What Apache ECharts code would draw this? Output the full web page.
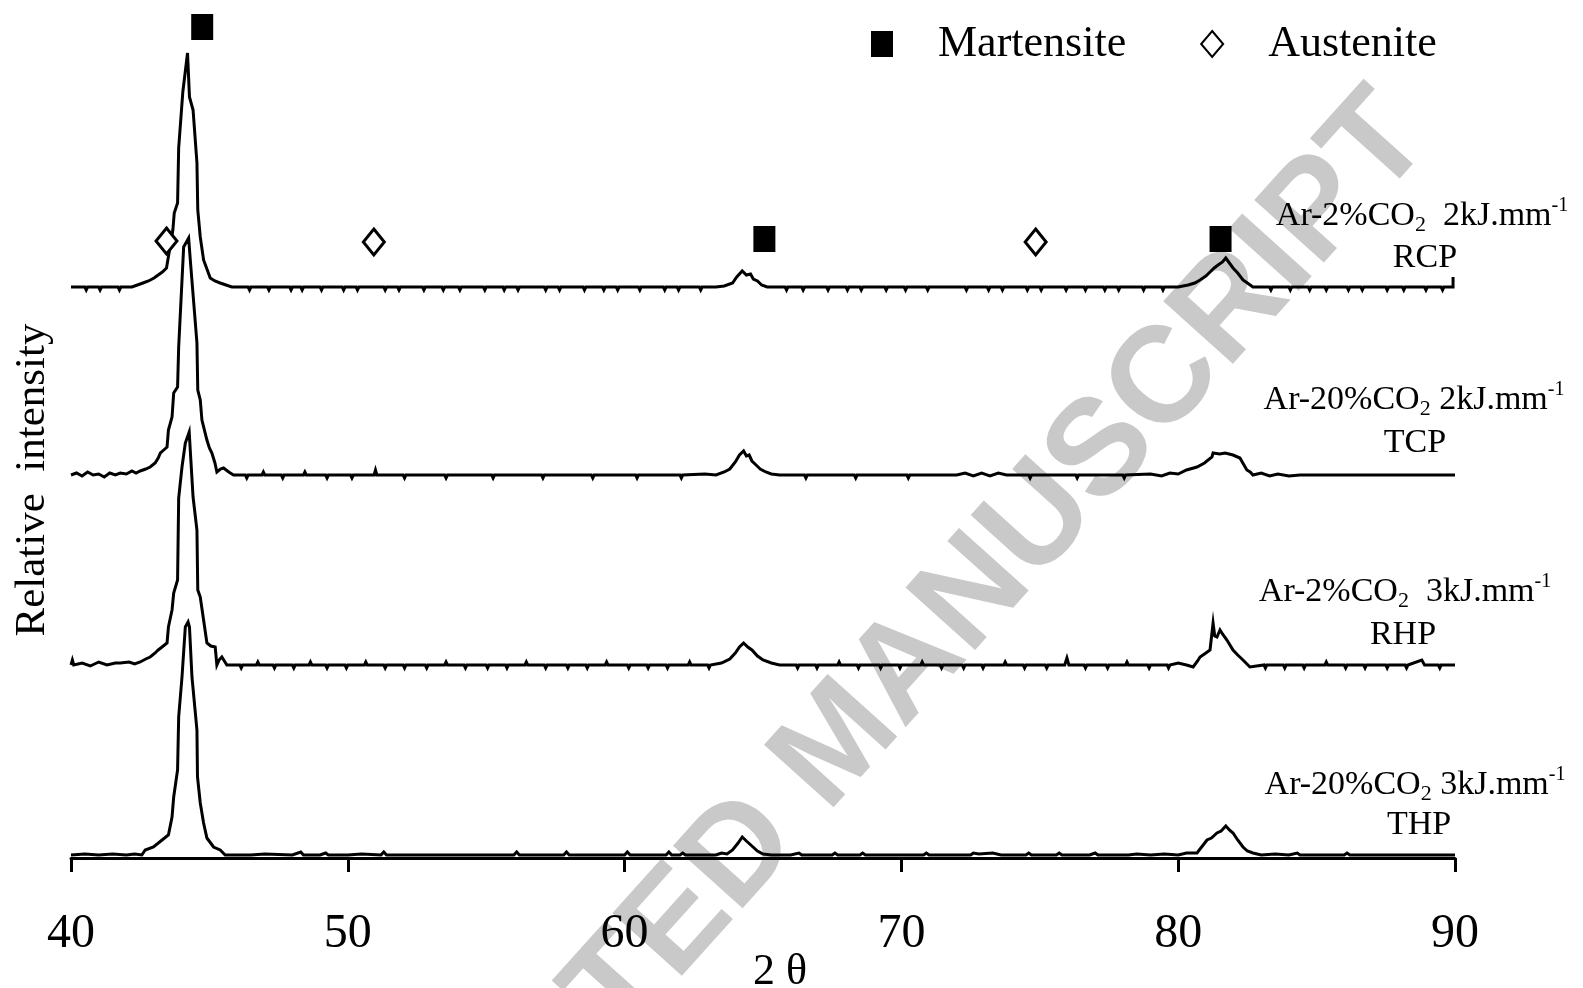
<!DOCTYPE html>
<html>
<head>
<meta charset="utf-8">
<script src="https://cdn.jsdelivr.net/npm/echarts@6/dist/echarts.min.js"></script>
<style>
html,body{margin:0;padding:0;background:#fff;}
#chart{width:1583px;height:988px;}
</style>
</head>
<body>
<div id="chart"></div>
<script>
// 2-theta tick labels
const xTicks = [40, 50, 60, 70, 80, 90];

// Diffraction patterns (2θ, stacked relative intensity in chart units)
const RCP = [[40.0,571],[40.5,571],[40.55,568],[40.6,571],[41.0,571],[41.05,568],[41.1,571],[41.7,571],[41.75,568],[41.8,571],[42.2,571],[42.4,573],[42.6,575],[42.8,577],[43.0,580],[43.15,583],[43.3,586],[43.45,590],[43.56,608],[43.68,628],[43.73,645],[43.85,655],[43.89,710],[44.04,766],[44.21,805],[44.28,761],[44.41,748],[44.55,695],[44.58,648],[44.67,621],[44.79,598],[45.03,580],[45.2,577],[45.39,575],[45.6,573],[45.81,571],[46.4,571],[46.45,568],[46.5,571],[47.1,571],[47.15,568],[47.2,571],[47.9,571],[47.95,568],[48.0,571],[48.3,571],[48.35,568],[48.4,571],[49.0,571],[49.05,568],[49.1,571],[49.8,571],[49.85,568],[49.9,571],[50.3,571],[50.35,568],[50.4,571],[51.3,571],[51.35,568],[51.4,571],[51.8,571],[51.85,568],[51.9,571],[52.7,571],[52.75,568],[52.8,571],[53.4,571],[53.45,568],[53.5,571],[54.0,571],[54.05,568],[54.1,571],[54.9,571],[54.95,568],[55.0,571],[55.6,571],[55.65,568],[55.7,571],[56.1,571],[56.15,568],[56.2,571],[57.1,571],[57.15,568],[57.2,571],[57.6,571],[57.65,568],[57.7,571],[58.5,571],[58.55,568],[58.6,571],[59.2,571],[59.25,568],[59.3,571],[59.7,571],[59.75,568],[59.8,571],[60.5,571],[60.55,568],[60.6,571],[61.4,571],[61.45,568],[61.5,571],[61.9,571],[61.95,568],[62.0,571],[62.7,571],[62.75,568],[62.8,571],[63.3,571],[63.6,572],[63.9,575],[64.05,581],[64.25,587],[64.4,583],[64.55,584],[64.65,579],[64.8,577],[64.95,573],[65.15,571],[65.8,571],[65.85,568],[65.9,571],[66.4,571],[66.45,568],[66.5,571],[67.3,571],[67.35,568],[67.4,571],[68.0,571],[68.05,568],[68.1,571],[68.5,571],[68.55,568],[68.6,571],[69.4,571],[69.45,568],[69.5,571],[70.1,571],[70.15,568],[70.2,571],[70.9,571],[70.95,568],[71.0,571],[71.8,571],[72.3,571],[72.35,568],[72.4,571],[73.1,571],[73.15,568],[73.2,571],[73.6,571],[73.65,568],[73.7,571],[74.5,571],[74.55,568],[74.6,571],[75.0,571],[75.05,568],[75.1,571],[75.9,571],[75.95,568],[76.0,571],[76.6,571],[76.65,568],[76.7,571],[77.3,571],[77.35,568],[77.4,571],[77.8,571],[77.85,568],[77.9,571],[78.7,571],[78.75,568],[78.8,571],[79.4,571],[79.45,568],[79.5,571],[80.0,571],[80.36,573],[80.6,575],[80.79,578],[81.0,582],[81.15,586],[81.3,590],[81.44,593],[81.6,596],[81.72,600],[81.85,595],[81.98,590],[82.15,585],[82.34,578],[82.5,575],[82.7,571],[83.3,571],[83.35,568],[83.4,571],[84.0,571],[84.05,568],[84.1,571],[84.7,571],[84.75,568],[84.8,571],[85.3,571],[85.35,568],[85.4,571],[86.1,571],[86.15,568],[86.2,571],[86.6,571],[86.65,568],[86.7,571],[87.5,571],[87.55,568],[87.6,571],[88.1,571],[88.15,568],[88.2,571],[88.9,571],[88.95,568],[89.0,571],[89.5,571],[89.55,568],[89.6,571],[89.93,571],[89.93,581]];

const TCP = [[40.0,383],[40.2,385],[40.4,382],[40.6,386],[40.8,383],[41.0,384],[41.2,381],[41.4,385],[41.6,383],[41.78,385],[42.0,384],[42.2,387],[42.35,385],[42.5,387],[42.7,389],[42.86,391],[43.04,395],[43.15,400],[43.23,405],[43.35,408],[43.47,411],[43.52,428],[43.65,441],[43.71,465],[43.85,471],[43.89,511],[44.07,611],[44.25,620],[44.31,598],[44.55,515],[44.58,468],[44.67,458],[44.73,438],[44.91,418],[45.0,410],[45.09,405],[45.2,395],[45.27,386],[45.4,389],[45.51,390],[45.7,386],[45.87,383],[46.3,383],[46.35,380],[46.4,383],[46.9,383],[46.95,386],[47.0,383],[47.6,383],[47.65,380],[47.7,383],[48.4,383],[48.45,386],[48.5,383],[49.2,383],[49.25,380],[49.3,383],[50.1,383],[50.15,380],[50.2,383],[50.95,383],[51.0,388],[51.05,383],[52.0,383],[52.05,380],[52.1,383],[53.5,383],[53.55,380],[53.6,383],[55.2,383],[55.25,380],[55.3,383],[57.0,383],[57.05,380],[57.1,383],[58.8,383],[58.85,380],[58.9,383],[60.4,383],[60.45,380],[60.5,383],[62.0,383],[62.05,380],[62.1,383],[62.9,384],[63.3,383],[63.6,386],[63.8,389],[64.0,396],[64.15,403],[64.3,407],[64.4,402],[64.5,403],[64.6,397],[64.75,393],[64.9,389],[65.1,386],[65.3,384],[65.6,383],[66.5,383],[66.55,380],[66.6,383],[68.3,383],[68.35,380],[68.4,383],[70.2,383],[70.25,380],[70.3,383],[72.0,383],[72.3,385],[72.6,382],[72.9,385],[73.2,382],[73.5,385],[73.8,383],[74.6,383],[74.65,380],[74.7,383],[76.3,383],[76.35,380],[76.4,383],[78.0,383],[78.05,380],[78.1,383],[79.0,384],[79.4,382],[79.7,385],[80.0,384],[80.3,388],[80.68,391],[80.95,395],[81.22,401],[81.26,405],[81.5,404],[81.7,405],[81.98,403],[82.23,400],[82.48,388],[82.6,386],[82.7,383],[83.0,385],[83.3,382],[83.6,384],[84.0,382],[84.4,383],[84.76,383],[90.0,383]];

const RHP = [[40.0,193],[40.05,198],[40.1,193],[40.4,195],[40.7,192],[41.0,196],[41.3,193],[41.6,195],[41.78,195],[42.1,196],[42.3,194],[42.5,196],[42.7,199],[42.86,201],[43.04,205],[43.15,208],[43.29,211],[43.47,215],[43.52,231],[43.65,248],[43.71,265],[43.85,278],[43.89,360],[44.01,391],[44.13,415],[44.27,426],[44.33,398],[44.41,361],[44.55,328],[44.58,268],[44.67,261],[44.79,238],[44.91,215],[45.05,212],[45.21,211],[45.27,193],[45.35,198],[45.45,201],[45.63,193],[46.1,193],[46.15,190],[46.2,193],[46.7,193],[46.75,196],[46.8,193],[47.3,193],[47.35,190],[47.4,193],[48.0,193],[48.05,190],[48.1,193],[48.6,193],[48.65,196],[48.7,193],[49.2,193],[49.25,190],[49.3,193],[49.9,193],[49.95,190],[50.0,193],[50.6,193],[50.65,196],[50.7,193],[51.3,193],[51.35,190],[51.4,193],[52.0,193],[52.05,190],[52.1,193],[52.8,193],[52.85,190],[52.9,193],[53.5,193],[53.55,196],[53.6,193],[54.2,193],[54.25,190],[54.3,193],[55.0,193],[55.05,190],[55.1,193],[55.7,193],[55.75,190],[55.8,193],[56.4,193],[56.45,196],[56.5,193],[57.1,193],[57.15,190],[57.2,193],[57.9,193],[57.95,190],[58.0,193],[58.6,193],[58.65,190],[58.7,193],[59.3,193],[59.35,196],[59.4,193],[60.1,193],[60.15,190],[60.2,193],[60.8,193],[60.85,190],[60.9,193],[61.5,193],[61.55,190],[61.6,193],[62.3,193],[62.35,196],[62.4,193],[63.0,193],[63.05,190],[63.1,193],[63.5,195],[63.8,199],[64.0,205],[64.15,211],[64.3,215],[64.45,211],[64.6,208],[64.8,202],[65.0,198],[65.3,195],[65.6,193],[66.2,193],[66.25,190],[66.3,193],[66.9,193],[66.95,190],[67.0,193],[67.7,193],[67.75,196],[67.8,193],[68.4,193],[68.45,190],[68.5,193],[69.2,193],[69.25,190],[69.3,193],[69.9,193],[69.95,190],[70.0,193],[70.7,193],[70.75,196],[70.8,193],[71.4,193],[71.45,190],[71.5,193],[72.2,193],[72.25,190],[72.3,193],[72.9,193],[72.95,190],[73.0,193],[73.7,193],[73.75,196],[73.8,193],[74.4,193],[74.45,190],[74.5,193],[75.2,193],[75.25,190],[75.3,193],[75.9,193],[75.98,200],[76.05,193],[76.6,193],[76.65,190],[76.7,193],[77.4,193],[77.45,190],[77.5,193],[78.1,193],[78.15,196],[78.2,193],[78.9,193],[78.95,190],[79.0,193],[79.6,193],[79.65,190],[79.7,193],[80.0,195],[80.3,193],[80.54,191],[80.7,197],[80.79,201],[81.0,205],[81.15,208],[81.26,235],[81.32,222],[81.4,221],[81.51,228],[81.6,224],[81.76,218],[81.98,208],[82.15,203],[82.34,198],[82.59,191],[83.1,193],[83.15,190],[83.2,193],[83.8,193],[83.85,190],[83.9,193],[84.5,193],[84.55,190],[84.6,193],[85.3,193],[85.35,196],[85.4,193],[86.0,193],[86.05,190],[86.1,193],[86.7,193],[86.75,190],[86.8,193],[87.5,193],[87.55,190],[87.6,193],[88.2,193],[88.25,190],[88.3,193],[88.8,198],[88.9,193],[89.4,193],[89.45,190],[89.5,193],[90.0,193]];

const THP = [[40.0,3],[40.5,4],[41.0,3],[41.5,4],[42.0,3],[42.3,4],[42.56,3],[42.68,8],[42.98,11],[43.29,18],[43.52,23],[43.65,41],[43.71,61],[43.85,88],[43.89,141],[44.01,181],[44.13,231],[44.23,236],[44.28,231],[44.37,181],[44.55,128],[44.57,81],[44.67,55],[44.79,35],[44.91,20],[45.15,11],[45.39,8],[45.57,3],[46.5,3],[47.0,4],[48.0,3],[48.3,6],[48.4,3],[49.0,3],[49.2,5],[49.3,3],[50.0,3],[50.5,4],[51.2,3],[51.3,6],[51.4,3],[52.5,3],[55.0,3],[56.0,3],[56.1,6],[56.2,3],[57.8,3],[57.9,6],[58.0,3],[60.0,3],[60.1,6],[60.2,3],[61.5,3],[61.6,6],[61.7,3],[62.0,3],[62.1,5],[62.2,3],[63.3,3],[63.5,5],[63.7,4],[63.9,8],[64.1,15],[64.25,21],[64.4,17],[64.6,12],[64.8,7],[65.0,4],[65.3,3],[66.0,3],[66.3,5],[66.4,3],[67.5,3],[67.6,5],[67.7,3],[68.5,3],[68.6,5],[68.7,3],[69.5,3],[70.0,3],[70.8,3],[70.9,5],[71.0,3],[72.5,3],[72.6,5],[72.8,4],[73.3,5],[73.6,3],[74.5,3],[74.6,5],[74.7,3],[75.6,3],[75.7,5],[75.8,3],[76.8,3],[77.0,5],[77.1,3],[78.2,3],[78.5,4],[79.0,3],[79.5,4],[80.0,3],[80.3,5],[80.68,5],[81.04,18],[81.2,20],[81.4,25],[81.55,27],[81.72,32],[81.85,28],[81.98,25],[82.15,18],[82.34,11],[82.5,7],[82.7,5],[83.0,3],[83.5,4],[84.0,3],[84.3,5],[84.4,3],[86.0,3],[86.1,5],[86.2,3],[87.0,3],[90.0,3]];

// Phase markers
const martensite = [[44.74,831],[65.05,619],[81.53,619]];
const austenite = [[43.45,617],[50.94,616],[74.85,616]];

// Sample labels (line 1 rich text, line 2)
const sampleLine1 = ['Ar-2%CO{sub|2}  2kJ.mm{sup|-1}', 'Ar-20%CO{sub|2} 2kJ.mm{sup|-1}', 'Ar-2%CO{sub|2}  3kJ.mm{sup|-1}', 'Ar-20%CO{sub|2} 3kJ.mm{sup|-1}'];
const sampleLine2 = ['RCP', 'TCP', 'RHP', 'THP'];
const labelPos = [[1422,216,1425,258],[1414,400,1415,443],[1405,592,1403,635],[1415,785,1419,825]];

const FONT = '"Liberation Serif","Times New Roman",serif';
const chart = echarts.init(document.getElementById('chart'));

const lineSeries = [['RCP', RCP], ['TCP', TCP], ['RHP', RHP], ['THP', THP]].map(([n, d]) => ({
  name: n, type: 'line', data: d, showSymbol: false, symbol: 'none',
  lineStyle: { color: '#000', width: 3, join: 'miter' }, z: 3, animation: false
}));

const graphics = [
  { type: 'text', z: -10, x: 840, y: 744, rotation: 48 * Math.PI / 180,
    style: { text: 'ACCEPTED MANUSCRIPT', fill: '#c9c9c9', font: 'bold 136px "Liberation Sans", Arial, sans-serif', textAlign: 'center', textVerticalAlign: 'middle' } },
  { type: 'text', x: 33, y: 480, rotation: Math.PI / 2,
    style: { text: 'Relative  intensity', fill: '#000', font: '43px ' + FONT, textAlign: 'center', textVerticalAlign: 'middle' } }
];
for (let i = 0; i < 4; i++) {
  const p = labelPos[i];
  graphics.push({ type: 'text', x: p[0], y: p[1], z: 5,
    style: { text: sampleLine1[i], fill: '#000', font: '34px ' + FONT, lineHeight: 40, textAlign: 'center', textVerticalAlign: 'middle',
      rich: { sub: { fontSize: 22, fontFamily: FONT, verticalAlign: 'bottom', lineHeight: 22, fill: '#000' },
              sup: { fontSize: 20, fontFamily: FONT, verticalAlign: 'top', lineHeight: 20, fill: '#000' } } } });
  graphics.push({ type: 'text', x: p[2], y: p[3], z: 5,
    style: { text: sampleLine2[i], fill: '#000', font: '34px ' + FONT, textAlign: 'center', textVerticalAlign: 'middle' } });
}

chart.setOption({
  animation: false,
  backgroundColor: '#fff',
  grid: { left: 71, right: 128, top: 8, bottom: 130, containLabel: false, outerBoundsMode: 'none' },
  legend: {
    data: ['Martensite', 'Austenite'], left: 866, top: 17,
    itemWidth: 22, itemHeight: 26, itemGap: 74,
    textStyle: { fontSize: 44, fontFamily: FONT, color: '#000', padding: [0, 0, 0, 40] }
  },
  xAxis: {
    type: 'value', min: xTicks[0], max: xTicks[xTicks.length - 1], interval: 10,
    name: '2 θ', nameLocation: 'middle', nameGap: 92, nameMoveOverlap: false,
    nameTextStyle: { fontSize: 44, fontFamily: FONT, color: '#000', padding: [0, 0, 0, 34] },
    axisLine: { lineStyle: { color: '#000', width: 3 } },
    axisTick: { length: 14, lineStyle: { color: '#000', width: 3 } },
    axisLabel: { fontSize: 48, fontFamily: FONT, color: '#000', margin: 52 },
    splitLine: { show: false }
  },
  yAxis: { type: 'value', min: 0, max: 850, show: false },
  graphic: graphics,
  series: lineSeries.concat([
    { name: 'Martensite', type: 'scatter', data: martensite, symbol: 'rect', symbolSize: [22, 26],
      itemStyle: { color: '#000', opacity: 1 }, z: 4 },
    { name: 'Austenite', type: 'scatter', data: austenite, symbol: 'diamond', symbolSize: [21, 26],
      itemStyle: { color: '#fff', borderColor: '#000', borderWidth: 3, opacity: 1 }, z: 4 }
  ])
});
</script>
</body>
</html>
